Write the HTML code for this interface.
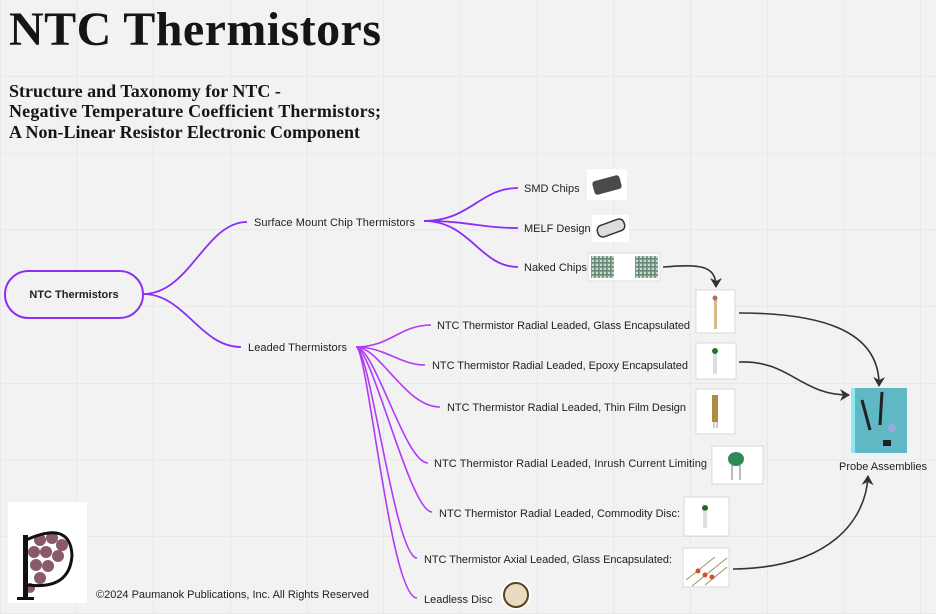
<!DOCTYPE html>
<html><head><meta charset="utf-8"><style>
html,body{margin:0;padding:0;background:#f2f2f2;}
body{width:936px;height:614px;overflow:hidden;position:relative;font-family:"Liberation Sans",sans-serif;}
svg{position:absolute;left:0;top:0;}
</style></head><body>
<svg width="936" height="614" viewBox="0 0 936 614" xmlns="http://www.w3.org/2000/svg">
<defs>
<pattern id="g" width="76.7" height="76.7" patternUnits="userSpaceOnUse" x="0" y="-0.5">
<path d="M0 0V76.7M0 0H76.7" stroke="#dedede" stroke-width="1" fill="none"/>
</pattern>
<pattern id="noise" width="4" height="4" patternUnits="userSpaceOnUse">
<rect width="4" height="4" fill="#7a9a8a"/><rect width="2" height="2" fill="#c8d8cc"/><rect x="2" y="2" width="1" height="1" fill="#3d5a4a"/>
</pattern>
<marker id="ah" markerWidth="14" markerHeight="14" refX="10" refY="7" orient="auto" markerUnits="userSpaceOnUse">
<path d="M1 1 L11 7 L1 13 L4 7 Z" fill="#333"/>
</marker>
</defs>
<rect width="936" height="614" fill="url(#g)"/>

<text x="9" y="45" font-family="Liberation Serif,serif" font-weight="bold" font-size="48" fill="#151515" textLength="372">NTC Thermistors</text>
<g font-family="Liberation Serif,serif" font-weight="bold" font-size="18" fill="#151515">
<text x="9" y="97">Structure and Taxonomy for NTC -</text>
<text x="9" y="117" textLength="372">Negative Temperature Coefficient Thermistors;</text>
<text x="9" y="138">A Non-Linear Resistor Electronic Component</text>
</g>

<rect x="5" y="271" width="138" height="47" rx="23.5" fill="#f2f2f2" stroke="#8b2ff5" stroke-width="2"/>
<text x="74" y="298" text-anchor="middle" font-size="11" font-weight="bold" fill="#222">NTC Thermistors</text>

<g fill="none" stroke="#8b2ff5" stroke-width="1.8">
<path d="M143 294 C190 294 205 222 247 222"/>
<path d="M143 294 C185 294 200 347 241 347"/>
<path d="M424 221 C470 221 480 188 518 188"/>
<path d="M424 221 C470 221 480 228 518 228"/>
<path d="M424 221 C470 221 480 267 518 267"/>
</g>
<g fill="none" stroke="#b03af5" stroke-width="1.6">
<path d="M356 347 C390 347 400 325 431 325"/>
<path d="M356 347 C385 347 400 365 425 365"/>
<path d="M356 347 C380 347 405 407 440 407"/>
<path d="M356 347 C375 347 405 463 428 463"/>
<path d="M356 347 C372 347 410 512 432 512"/>
<path d="M356 347 C370 347 395 558 417 558"/>
<path d="M356 347 C368 347 390 598 417 598"/>
</g>

<g font-size="11" fill="#222">
<text x="254" y="226" textLength="161">Surface Mount Chip Thermistors</text>
<text x="248" y="351" textLength="99">Leaded Thermistors</text>
<text x="524" y="192">SMD Chips</text>
<text x="524" y="232">MELF Design</text>
<text x="524" y="271">Naked Chips</text>
<text x="437" y="329" textLength="253">NTC Thermistor Radial Leaded, Glass Encapsulated</text>
<text x="432" y="369" textLength="256">NTC Thermistor Radial Leaded, Epoxy Encapsulated</text>
<text x="447" y="411" textLength="239">NTC Thermistor Radial Leaded, Thin Film Design</text>
<text x="434" y="467" textLength="273">NTC Thermistor Radial Leaded, Inrush Current Limiting</text>
<text x="439" y="517" textLength="241">NTC Thermistor Radial Leaded, Commodity Disc:</text>
<text x="424" y="563" textLength="248">NTC Thermistor Axial Leaded, Glass Encapsulated:</text>
<text x="424" y="603">Leadless Disc</text>
<text x="839" y="470" textLength="88">Probe Assemblies</text>
<text x="96" y="598" textLength="273">©2024 Paumanok Publications, Inc. All Rights Reserved</text>
</g>

<rect x="587" y="169" width="40" height="31" fill="#fff"/>
<rect x="593" y="178" width="28" height="14" rx="3" fill="#4a4a4a" transform="rotate(-15 607 185)"/>
<rect x="592" y="215" width="37" height="27" fill="#fff"/>
<rect x="597" y="222" width="28" height="12" rx="5" fill="#ddd" stroke="#333" stroke-width="1.5" transform="rotate(-20 611 228)"/>
<rect x="588" y="253" width="72" height="28" fill="#fff" stroke="#ddd"/>
<rect x="591" y="256" width="23" height="22" fill="url(#noise)"/>
<rect x="635" y="256" width="23" height="22" fill="url(#noise)"/>

<g fill="#fff" stroke="#d8d8d8">
<rect x="696" y="290" width="39" height="43"/>
<rect x="696" y="343" width="40" height="36"/>
<rect x="696" y="389" width="39" height="45"/>
<rect x="712" y="446" width="51" height="38"/>
<rect x="684" y="497" width="45" height="39"/>
<rect x="683" y="548" width="46" height="39"/>
</g>
<rect x="714" y="297" width="3" height="32" fill="#d9b98c"/><circle cx="715" cy="298" r="2.5" fill="#b07060"/>
<line x1="714" y1="352" x2="714" y2="374" stroke="#bbb"/><line x1="716" y1="352" x2="716" y2="374" stroke="#bbb"/><circle cx="715" cy="351" r="3" fill="#1f7a2a"/>
<rect x="712" y="395" width="6" height="27" fill="#b08a40"/><line x1="714" y1="422" x2="714" y2="428" stroke="#999"/><line x1="717" y1="422" x2="717" y2="428" stroke="#999"/>
<ellipse cx="736" cy="459" rx="8" ry="7" fill="#2e8a55"/><line x1="732" y1="464" x2="732" y2="480" stroke="#777"/><line x1="740" y1="464" x2="740" y2="480" stroke="#777"/>
<circle cx="705" cy="508" r="3" fill="#1a6a30"/><line x1="704" y1="510" x2="704" y2="528" stroke="#bbb"/><line x1="706" y1="510" x2="706" y2="528" stroke="#bbb"/>
<g stroke="#a09060" stroke-width="1"><line x1="686" y1="580" x2="715" y2="557"/><line x1="692" y1="586" x2="727" y2="558"/><line x1="705" y1="585" x2="727" y2="567"/></g>
<g fill="#d0502a"><circle cx="698" cy="571" r="2.5"/><circle cx="705" cy="575" r="2.5"/><circle cx="712" cy="577" r="2.5"/></g>

<rect x="851" y="388" width="56" height="65" fill="#5fb8c4"/>
<rect x="851" y="388" width="4" height="65" fill="#8fe8f2"/>
<g stroke="#222" stroke-width="3"><line x1="862" y1="400" x2="870" y2="430"/><line x1="882" y1="392" x2="880" y2="425"/></g>
<circle cx="892" cy="428" r="4" fill="#9ad"/><rect x="883" y="440" width="8" height="6" fill="#222"/>

<circle cx="516" cy="595" r="15" fill="#fff"/><circle cx="516" cy="595" r="12" fill="#e8dcc0" stroke="#5a4020" stroke-width="2"/>

<rect x="8" y="502" width="79" height="101" fill="#fff"/>
<g fill="#8a5a6c">
<circle cx="40" cy="540" r="6"/><circle cx="52" cy="538" r="6"/><circle cx="62" cy="545" r="6"/><circle cx="34" cy="552" r="6"/><circle cx="46" cy="552" r="6"/><circle cx="58" cy="556" r="6"/><circle cx="36" cy="565" r="6"/><circle cx="48" cy="566" r="6"/><circle cx="40" cy="578" r="6"/><circle cx="30" cy="588" r="5"/>
</g>
<path d="M26 540 Q70 520 72 555 Q70 590 28 585" fill="none" stroke="#111" stroke-width="3"/>
<rect x="23" y="535" width="5" height="63" fill="#111"/><rect x="17" y="597" width="17" height="3" fill="#111"/>

<g fill="none" stroke="#333" stroke-width="1.6" marker-end="url(#ah)">
<path d="M663 267 C700 264 716 265 716 287"/>
<path d="M739 313 C820 313 880 330 879 386"/>
<path d="M739 362 C790 360 800 395 849 395"/>
<path d="M733 569 C830 568 866 520 868 476"/>
</g>
</svg>
</body></html>
